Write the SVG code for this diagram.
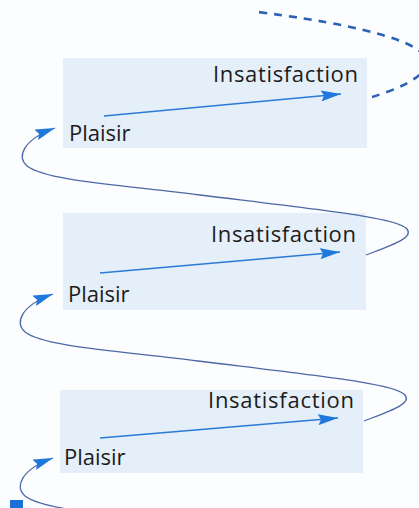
<svg xmlns="http://www.w3.org/2000/svg" width="419" height="508" viewBox="0 0 419 508">
  <defs>
    <marker id="head" markerUnits="userSpaceOnUse" markerWidth="20" markerHeight="11" refX="20" refY="5.5" orient="auto">
      <path d="M0,0 L20,5.5 L0,11 L3,5.5 z" fill="#1f78dc"/>
    </marker>
    <style>
      .panel { fill: #e5eff9; }
      .label { font-family: "Open Sans", "Liberation Sans", sans-serif; font-size: 22px; fill: #1c1c1c; }
      .flow { fill: none; stroke: #2c7ad6; stroke-width: 1.6; marker-end: url(#head); }
      .loop { fill: none; stroke: #4d68a6; stroke-width: 1.3; }
      .loop-arrow { marker-end: url(#head); }
      .dash { fill: none; stroke: #2b62b4; stroke-width: 2.6; stroke-dasharray: 8 7; }
    </style>
  </defs>
  <rect width="419" height="508" fill="#fcfdfe"/>

  <g id="panel1">
    <rect class="panel" x="63" y="58" width="304" height="90"/>
    <text class="label" x="213" y="82" textLength="145" lengthAdjust="spacing">Insatisfaction</text>
    <text class="label" x="69" y="141">Plaisir</text>
  </g>
  <g id="panel2">
    <rect class="panel" x="63" y="213" width="303" height="97"/>
    <text class="label" x="211" y="242" textLength="145" lengthAdjust="spacing">Insatisfaction</text>
    <text class="label" x="68" y="302">Plaisir</text>
  </g>
  <g id="panel3">
    <rect class="panel" x="60" y="390" width="303" height="83"/>
    <text class="label" x="208" y="408" textLength="146" lengthAdjust="spacing">Insatisfaction</text>
    <text class="label" x="64" y="465">Plaisir</text>
  </g>

  <g id="connectors">
    <line class="flow" x1="104" y1="116" x2="341" y2="94"/>
    <line class="flow" x1="100" y1="273" x2="340" y2="252"/>
    <line class="flow" x1="100" y1="438" x2="338" y2="418"/>

    <path class="loop loop-arrow" d="M366,255 C392,245 414,238 407,229 C398,218 330,211 200,195 C110,184 45,180 27,166 C17,157 22,140 55,128"/>
    <path class="loop loop-arrow" transform="translate(-2,166)" d="M366,255 C392,245 414,238 407,229 C398,218 330,211 200,195 C110,184 45,180 27,166 C17,157 22,140 55,128"/>
    <path class="loop loop-arrow" transform="translate(-2,330)" d="M200,195 C110,184 45,180 27,166 C17,157 22,140 55,128"/>

    <path class="dash" d="M372,97 C395,90 425,78 427,63 C428,50 400,30 258,12"/>
  </g>

  <rect x="10" y="500" width="13" height="8" fill="#1b6fd6"/>
</svg>
